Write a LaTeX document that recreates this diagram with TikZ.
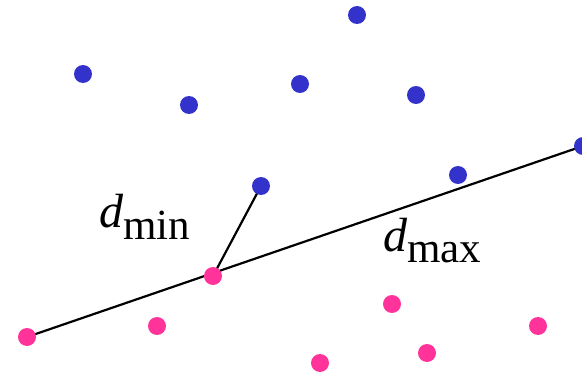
\documentclass[tikz,border=0pt]{standalone}
\usetikzlibrary{backgrounds}
\usepackage{fontspec}
\setmainfont{Liberation Serif}
\usepackage{xcolor}
\definecolor{dotblue}{RGB}{51,51,204}
\definecolor{dotpink}{RGB}{255,51,153}

\begin{document}
\begin{tikzpicture}[x=1pt, y=-1pt,
  dot/.style={circle, fill=#1, inner sep=0pt, minimum size=18pt},
  bluedot/.style={dot=dotblue},
  pinkdot/.style={dot=dotpink},
  edge/.style={line width=2.2pt, black},
  lbl/.style={inner sep=0pt, anchor=base west}]
  \useasboundingbox (0,0) rectangle (582,377);
  % upper class
  \node[bluedot] (b1) at (357,15) {};
  \node[bluedot] (b2) at (83,74) {};
  \node[bluedot] (b3) at (189,105) {};
  \node[bluedot] (b4) at (300,84) {};
  \node[bluedot] (b5) at (416,95) {};
  \node[bluedot] (b6) at (261,186) {};
  \node[bluedot] (b7) at (458,175) {};
  \node[bluedot] (b8) at (583,146) {};
  % lower class
  \node[pinkdot] (p1) at (27,337) {};
  \node[pinkdot] (p2) at (157,326) {};
  \node[pinkdot] (p3) at (213,276) {};
  \node[pinkdot] (p4) at (392,304) {};
  \node[pinkdot] (p5) at (538,326) {};
  \node[pinkdot] (p6) at (320,363) {};
  \node[pinkdot] (p7) at (427,353) {};
  % lines behind the dots
  \begin{scope}[on background layer]
    \draw[edge] (p1.center) -- (b8.center);
    \draw[edge] (p3.center) -- (b6.center);
  \end{scope}
  % labels
  \node[lbl] (dmin) at (99,228) {\fontsize{48}{48}\selectfont\textit{d}\raisebox{-12pt}{\fontsize{43}{43}\selectfont min}};
  \node[lbl] (dmax) at (383,252) {\fontsize{48}{48}\selectfont\textit{d}\raisebox{-11pt}{\fontsize{43}{43}\selectfont max}};
\end{tikzpicture}
\end{document}
